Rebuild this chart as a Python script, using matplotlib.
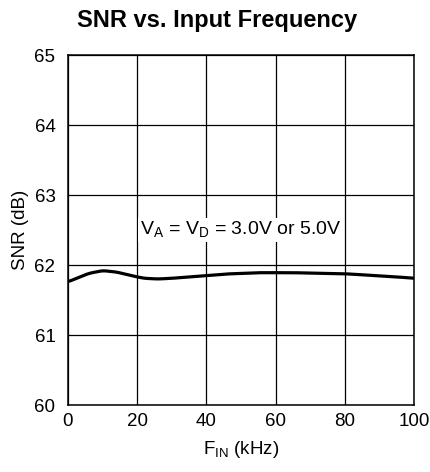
import matplotlib
matplotlib.use("Agg")
import matplotlib.pyplot as plt
import numpy as np

plt.rcParams['font.family'] = ['Liberation Sans', 'DejaVu Sans']

freq_khz = [0, 3, 6, 10, 14, 18, 22, 26, 30, 35, 40, 45, 50, 55, 60, 65, 70, 75, 80, 85, 90, 95, 100]
snr_db = [61.76, 61.82, 61.88, 61.92, 61.90, 61.85, 61.81, 61.80, 61.81, 61.83, 61.85, 61.87,
          61.88, 61.89, 61.89, 61.89, 61.885, 61.88, 61.875, 61.86, 61.845, 61.83, 61.81]
x_ticks = [0, 20, 40, 60, 80, 100]
y_ticks = [60, 61, 62, 63, 64, 65]

fig = plt.figure(figsize=(4.31, 4.72), dpi=100)
ax = fig.add_axes([68/431, 1-405/472, (414-68)/431, (405-55)/472])

xs = np.linspace(0, 100, 400)
ys = np.interp(xs, freq_khz, snr_db)
k = 9
ys_s = np.convolve(np.pad(ys, k//2, mode='edge'), np.ones(k)/k, mode='valid')
ax.plot(xs, ys_s, color='black', lw=2.3, solid_capstyle='butt', zorder=3)

ax.set_xlim(0, 100)
ax.set_ylim(60, 65)
ax.set_xticks(x_ticks)
ax.set_yticks(y_ticks)
ax.grid(True, color='black', lw=0.9)
ax.tick_params(length=0, labelsize=13.5)
ax.tick_params(axis='x', pad=6)
ax.tick_params(axis='y', pad=9)
for s in ax.spines.values():
    s.set_linewidth(1.1)

ax.set_xlabel('F$_{\\mathregular{IN}}$ (kHz)', fontsize=13.5, labelpad=6)
ax.set_ylabel('SNR (dB)', fontsize=13.5, labelpad=4)

ax.text(50, 62.5, 'V$_{\\mathregular{A}}$ = V$_{\\mathregular{D}}$ = 3.0V or 5.0V', fontsize=14,
        ha='center', va='center', zorder=4,
        bbox=dict(facecolor='white', edgecolor='none', pad=1.5))

fig.suptitle('SNR vs. Input Frequency', fontsize=17, fontweight='bold', x=0.503, y=0.98)

fig.savefig('out.png', dpi=100)
